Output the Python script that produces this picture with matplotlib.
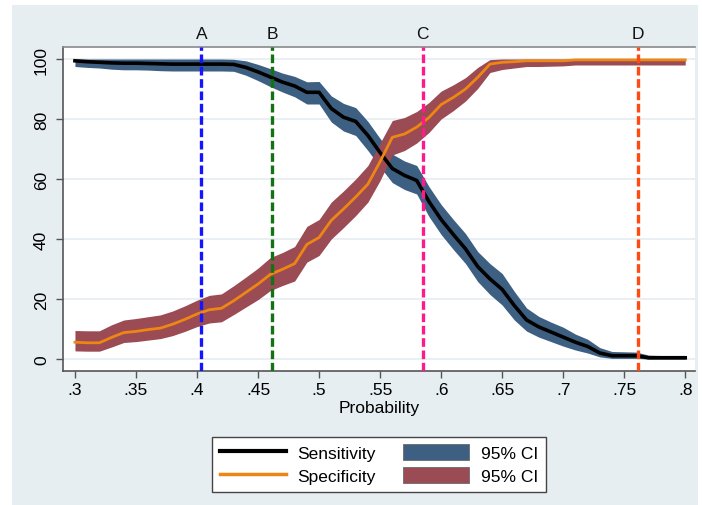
import numpy as np
import matplotlib
matplotlib.use("Agg")
import matplotlib.pyplot as plt
from matplotlib.lines import Line2D
from matplotlib.patches import Patch, Rectangle

plt.rcParams['font.family'] = ['Liberation Sans', 'DejaVu Sans']

# probability cut-offs
prob = [0.30, 0.31, 0.32, 0.33, 0.34, 0.35, 0.36, 0.37, 0.38, 0.39,
        0.40, 0.41, 0.42, 0.43, 0.44, 0.45, 0.46, 0.47, 0.48, 0.49,
        0.50, 0.51, 0.52, 0.53, 0.54, 0.55, 0.56, 0.57, 0.58, 0.59,
        0.60, 0.61, 0.62, 0.63, 0.64, 0.65, 0.66, 0.67, 0.68, 0.69,
        0.70, 0.71, 0.72, 0.73, 0.74, 0.75, 0.76, 0.77, 0.78, 0.79, 0.80]

sens = [99.4, 99.1, 98.9, 98.7, 98.6, 98.6, 98.5, 98.4, 98.3, 98.3,
        98.3, 98.3, 98.3, 98.2, 97.2, 95.7, 94.0, 92.3, 91.0, 88.9,
        88.9, 83.5, 80.6, 79.2, 74.5, 68.8, 63.5, 61.2, 59.5, 52.5,
        46.5, 41.5, 36.7, 30.8, 26.7, 23.2, 17.8, 13.0, 10.7, 9.0,
        7.3, 5.6, 4.2, 2.0, 1.1, 1.1, 1.1, 0.4, 0.4, 0.4, 0.4]
sens_lo = [97.5, 97.2, 97.0, 96.6, 96.4, 96.4, 96.3, 96.1, 96.0, 96.0,
           96.0, 96.0, 96.0, 95.9, 94.6, 92.8, 90.8, 89.0, 87.4, 85.0,
           85.0, 79.0, 76.0, 74.5, 69.5, 64.0, 58.8, 56.5, 55.0, 47.5,
           41.5, 36.5, 31.8, 25.8, 21.5, 18.0, 13.0, 9.3, 7.3, 5.8,
           4.3, 3.0, 2.0, 0.7, 0.2, 0.2, 0.2, 0.0, 0.0, 0.0, 0.0]
sens_hi = [100, 100, 100, 100, 100, 100, 100, 100, 100, 100,
           100, 100, 100, 99.9, 99.4, 98.2, 96.8, 95.3, 94.2, 92.4,
           92.5, 87.7, 85.2, 83.8, 79.2, 73.5, 68.3, 66.0, 64.5, 57.5,
           51.5, 46.5, 41.8, 35.8, 31.8, 28.5, 22.5, 17.0, 14.2, 12.3,
           10.6, 8.3, 6.6, 3.8, 2.5, 2.4, 2.3, 1.3, 1.2, 1.2, 1.2]

spec = [5.6, 5.4, 5.4, 7.2, 8.8, 9.2, 9.8, 10.3, 11.6, 13.2,
        15.0, 16.4, 16.9, 19.4, 22.2, 25.0, 28.2, 29.9, 31.8, 38.2,
        40.5, 46.2, 50.0, 54.0, 58.3, 65.8, 73.9, 75.0, 77.3, 80.5,
        84.8, 87.2, 90.0, 93.9, 98.3, 98.9, 99.1, 99.4, 99.4, 99.4,
        99.4, 99.7, 99.7, 99.7, 99.7, 99.7, 99.7, 99.7, 99.7, 99.7, 99.7]
spec_lo = [2.7, 2.6, 2.6, 4.0, 5.5, 5.8, 6.3, 6.8, 7.8, 9.2,
           10.8, 12.0, 12.4, 14.8, 17.3, 19.8, 22.8, 24.5, 26.0, 32.3,
           34.5, 40.0, 43.8, 47.8, 52.3, 59.5, 68.0, 69.5, 72.0, 75.5,
           80.0, 82.8, 86.0, 90.2, 95.5, 96.5, 97.0, 97.5, 97.5, 97.6,
           97.7, 98.0, 98.0, 98.0, 98.0, 98.0, 98.0, 98.0, 98.0, 98.0, 98.0]
spec_hi = [9.5, 9.4, 9.4, 11.4, 13.0, 13.5, 14.1, 14.7, 16.0, 17.7,
           19.6, 21.2, 21.7, 24.4, 27.3, 30.3, 33.8, 35.5, 37.5, 44.2,
           46.5, 52.3, 56.0, 60.0, 64.5, 72.0, 79.5, 80.5, 82.5, 85.5,
           89.3, 91.4, 93.8, 97.2, 99.8, 100, 100, 100, 100, 100,
           100, 100, 100, 100, 100, 100, 100, 100, 100, 100, 100]

# cut-off markers
cut_labels = ['A', 'B', 'C', 'D']
cut_pos = [0.4035, 0.4617, 0.585, 0.761]
cut_colors = ['#1414ff', '#127312', '#ff1a8c', '#ff4a14']

xticks = [0.3, 0.35, 0.4, 0.45, 0.5, 0.55, 0.6, 0.65, 0.7, 0.75, 0.8]
xticklabels = ['.3', '.35', '.4', '.45', '.5', '.55', '.6', '.65', '.7', '.75', '.8']
yticks = [0, 20, 40, 60, 80, 100]

blue_ci = '#3d5f82'
red_ci = '#9a4b54'
orange = '#ee8614'

fig = plt.figure(figsize=(7.02, 5.06), dpi=100)
fig.patch.set_facecolor('white')
fig.patches.append(Rectangle((12/702, 0), 686/702, 1 - 6/506,
                             transform=fig.transFigure, facecolor='#e6eef1',
                             edgecolor='none', zorder=-5))

ax = fig.add_axes([63/702, 1 - 372/506, 632/702, 324/506])
ax.set_facecolor('white')

ax.fill_between(prob, sens_lo, sens_hi, color=blue_ci, lw=0, zorder=2)
ax.fill_between(prob, spec_lo, spec_hi, color=red_ci, lw=0, zorder=2)
ax.plot(prob, sens, color='black', lw=2.6, zorder=3, solid_joinstyle='round')
ax.plot(prob, spec, color=orange, lw=2.0, zorder=3, solid_joinstyle='round')

for lab, xp, c in zip(cut_labels, cut_pos, cut_colors):
    ax.axvline(xp, color=c, lw=2.4, dashes=(2.6, 1.1), zorder=4)
    ax.text(xp, 1.018, lab, transform=ax.get_xaxis_transform(),
            ha='center', va='bottom', fontsize=12.5, color='#111111')

ax.set_xlim(0.2902, 0.808)
ax.set_ylim(-4, 104)
ax.set_xticks(xticks)
ax.set_xticklabels(xticklabels)
ax.set_yticks(yticks)
ax.set_yticklabels([str(v) for v in yticks], rotation=90, va='center')
ax.tick_params(axis='both', labelsize=12.5, color='#555555', length=5,
               width=1, direction='out')
ax.tick_params(axis='x', pad=3)
ax.tick_params(axis='y', pad=5)
ax.yaxis.grid(True, color='#e7eef1', lw=1.3, zorder=0)
ax.set_axisbelow(True)
ax.set_xlabel('Probability', fontsize=12.5, labelpad=2)

for s in ['left', 'bottom']:
    ax.spines[s].set_color('#555555')
    ax.spines[s].set_linewidth(1.2)
ax.spines['top'].set_color('#8a8a8a')
ax.spines['top'].set_linewidth(1.2)
ax.spines['right'].set_visible(False)

handles = [Line2D([], [], color='black', lw=3),
           Line2D([], [], color=orange, lw=2.5),
           Patch(facecolor=blue_ci, edgecolor='#6a6a6a', lw=0.6),
           Patch(facecolor=red_ci, edgecolor='#6a6a6a', lw=0.6)]
labels = ['Sensitivity', 'Specificity', '95% CI', '95% CI']
leg = fig.legend(handles, labels, ncol=2, loc='upper center',
                 bbox_to_anchor=(379/702, 1 - 429/506), fontsize=12.5,
                 frameon=True, fancybox=False, framealpha=1,
                 handlelength=3.8, handleheight=1.0, handletextpad=0.65,
                 columnspacing=1.6, labelspacing=0.35, borderpad=0.45)
leg.get_frame().set_edgecolor('#444444')
leg.get_frame().set_linewidth(1.0)
leg.get_frame().set_facecolor('white')

fig.savefig('out.png', dpi=100, facecolor=fig.get_facecolor())
